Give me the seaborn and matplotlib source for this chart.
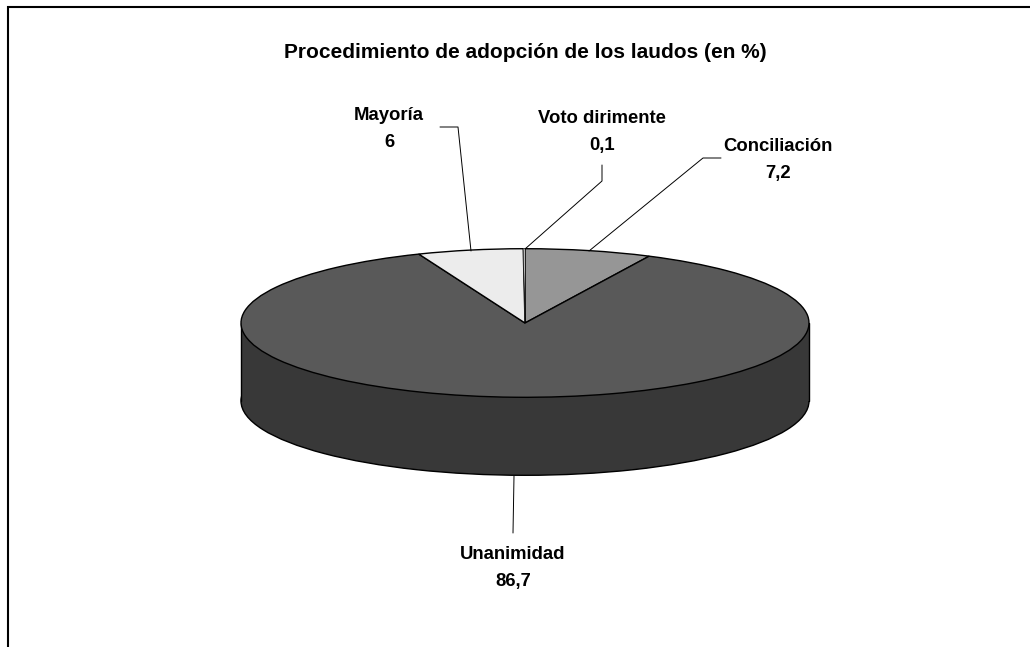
import matplotlib
matplotlib.use('Agg')
import matplotlib.pyplot as plt
from matplotlib.patches import Rectangle
import seaborn as sns

categorias = ['Conciliación', 'Unanimidad', 'Mayoría', 'Voto dirimente']
valores = [7.2, 86.7, 6, 0.1]
etiquetas_valor = ['7,2', '86,7', '6', '0,1']
colores = ['#969696', '#595959', '#ececec', '#ffffff']
titulo = 'Procedimiento de adopción de los laudos (en %)'

sns.set_theme(style='white')
plt.rcParams['font.family'] = ['Liberation Sans', 'DejaVu Sans']

W, H = 1030, 647
cx, cy, rx, ry, prof = 525, 323, 284, 74.3, 78

fig = plt.figure(figsize=(W / 100, H / 100), dpi=100)
ax = fig.add_axes([0, 0, 1, 1])

# cuerpo del cilindro, abajo
ax.pie([sum(valores)], colors=['#383838'], startangle=90, center=(0, -prof / ry),
       wedgeprops={'edgecolor': 'black', 'linewidth': 1})
ax.add_patch(Rectangle((-1, -prof / ry), 2, prof / ry, facecolor='#383838', edgecolor='none', zorder=2))
ax.plot([-1, -1], [0, -prof / ry], color='black', lw=1, zorder=3)
ax.plot([1, 1], [0, -prof / ry], color='black', lw=1, zorder=3)

# tapa
wedges, _ = ax.pie(valores, colors=colores, startangle=90, counterclock=False,
                   wedgeprops={'edgecolor': 'black', 'linewidth': 1, 'zorder': 4})
wedges[3].set_linewidth(0.4)
ax.set_aspect('auto')
ax.set_xlim(-cx / rx, (W - cx) / rx)
ax.set_ylim((cy - H) / ry, cy / ry)
ax.axis('off')

# capa en pixeles para textos y lineas guia
ov = fig.add_axes([0, 0, 1, 1], facecolor='none')
ov.set_xlim(0, W)
ov.set_ylim(H, 0)
ov.axis('off')

ov.plot([7.5, 7.5, W], [H, 6.5, 6.5], color='black', lw=1.5, solid_joinstyle='miter')

guias = {
    'Conciliación': ([589, 703, 721], [251, 158, 158]),
    'Unanimidad': ([514, 513], [476, 533]),
    'Mayoría': ([471, 458, 440], [251, 127, 127]),
    'Voto dirimente': ([525, 602, 602], [249, 181, 165]),
}
pos_texto = {
    'Conciliación': (778, 160),
    'Unanimidad': (513, 568),
    'Mayoría': (389, 129),
    'Voto dirimente': (602, 132),
}
for cat, val in zip(categorias, etiquetas_valor):
    xs, ys = guias[cat]
    ov.plot(xs, ys, color='black', lw=0.7)
    ov.text(*pos_texto[cat], f'{cat}\n{val}', ha='center', va='center', fontsize=13.3,
            fontweight='bold', color='black', linespacing=1.72)

ov.text(525, 52, titulo, ha='center', va='center', fontsize=15, fontweight='bold', color='black')

fig.savefig('out.png', dpi=100)
